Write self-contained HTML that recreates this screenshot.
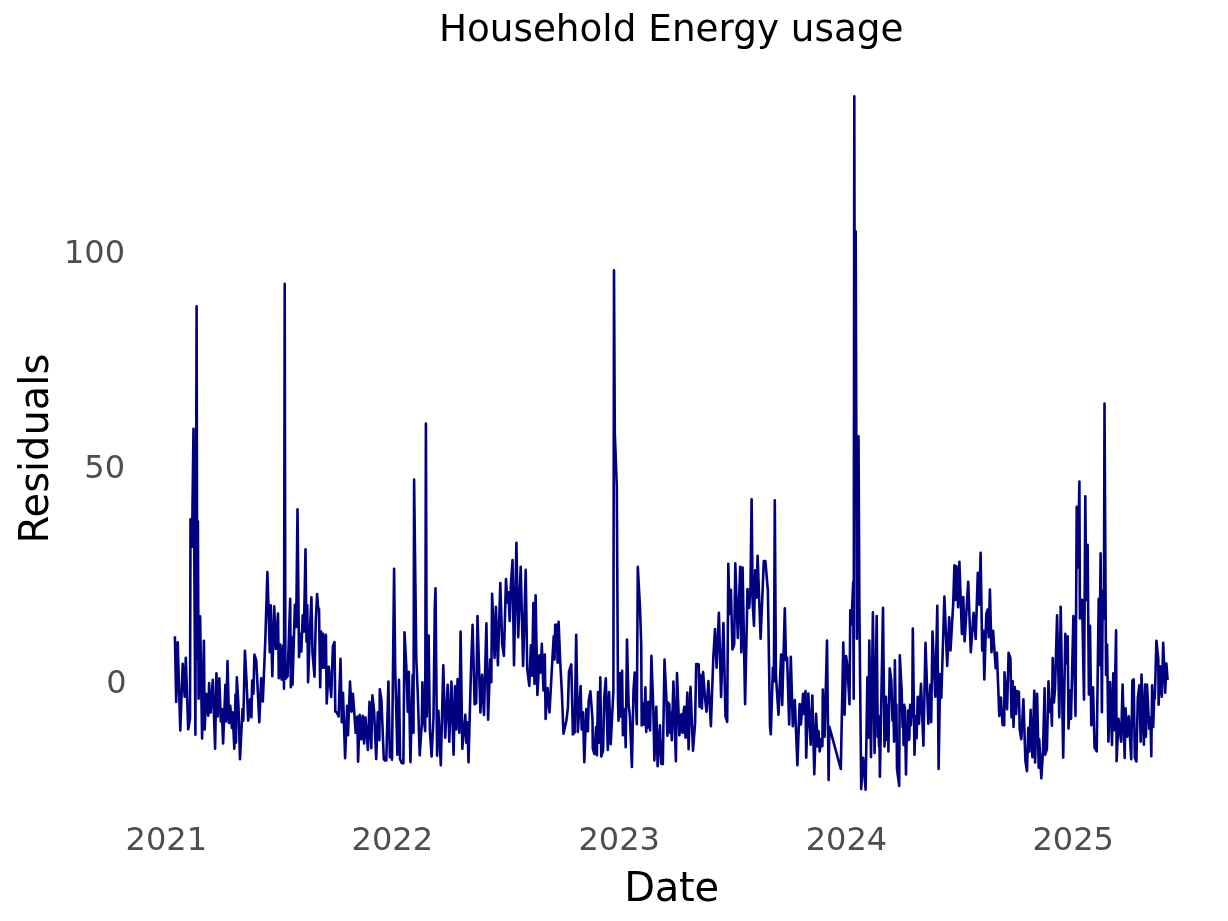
<!DOCTYPE html>
<html><head><meta charset="utf-8"><title>Household Energy usage</title>
<style>
html,body{margin:0;padding:0;background:#fff;}
svg{display:block}
text{font-family:"DejaVu Sans","Liberation Sans",sans-serif;}
</style></head><body>
<svg width="1228" height="921" viewBox="0 0 1228 921">
<rect width="1228" height="921" fill="#fff"/>
<text id="title" x="671.2" y="40.7" font-size="37.33" text-anchor="middle" fill="#000">Household Energy usage</text>
<text id="ylab" transform="translate(47.6,448.6) rotate(-90)" font-size="40" text-anchor="middle" fill="#000">Residuals</text>
<text id="xlab" x="671.5" y="900.8" font-size="40" letter-spacing="-0.3" text-anchor="middle" fill="#000">Date</text>
<g font-size="32" fill="#4d4d4d" text-anchor="end">
<text x="125" y="263.1">100</text>
<text x="125" y="478.1">50</text>
<text x="126.6" y="693">0</text>
</g>
<g font-size="32" fill="#4d4d4d" text-anchor="middle">
<text x="166.3" y="849.8">2021</text>
<text x="392.3" y="849.8">2022</text>
<text x="619.2" y="849.8">2023</text>
<text x="846.4" y="849.8">2024</text>
<text x="1073.2" y="849.8">2025</text>
</g>
<polyline id="line" fill="none" stroke="#000080" stroke-width="2.6" stroke-linejoin="round" points="174.9,636.3 176.2,701.9 177.7,642.4 180.3,730.4 182.7,663.9 184.7,696.7 185.8,657.8 188.2,729.2 190.0,718.5 190.5,519.2 192.0,546.8 193.5,428.7 195.4,734.8 196.6,306.2 197.3,658.8 197.9,521.2 198.6,698.8 200.1,616.2 202.1,738.5 203.9,640.7 204.7,729.5 206.2,693.7 208.3,715.7 209.1,683.1 210.7,712.4 212.8,679.8 215.1,748.8 216.4,673.3 217.7,716.5 219.3,678.2 220.8,721.4 221.8,709.1 223.1,743.4 225.4,684.7 226.2,721.4 227.5,661.1 229.0,723.0 230.3,705.9 231.9,727.9 232.7,712.4 234.3,748.8 235.5,694.5 236.0,742.6 236.8,677.4 238.4,704.7 240.0,759.2 242.5,709.1 243.3,720.6 244.9,650.8 246.5,680.3 248.2,720.6 250.1,699.4 251.4,717.3 252.2,680.6 253.4,693.7 254.4,654.6 256.3,660.7 259.3,722.2 261.2,678.2 262.8,701.5 265.3,640.4 267.4,572.0 269.8,652.2 270.7,605.4 272.3,676.1 274.2,606.2 275.9,648.9 278.0,613.5 278.8,678.2 280.3,644.5 281.6,679.4 283.2,645.6 284.0,688.8 284.7,283.9 285.4,678.8 287.6,676.2 290.2,598.9 290.8,687.2 291.8,637.5 292.5,684.8 294.9,604.9 296.2,626.9 297.5,509.3 299.0,657.1 300.3,633.9 301.3,651.4 302.7,615.2 303.9,631.8 305.5,549.2 306.5,641.6 307.3,605.4 308.1,682.3 309.7,636.3 311.4,597.3 312.5,652.6 314.5,676.6 315.8,620.0 317.1,594.0 318.2,609.0 319.0,608.7 320.2,687.2 321.1,631.5 322.3,667.7 323.1,633.9 324.4,667.7 325.9,634.7 326.7,703.5 328.8,666.8 331.2,697.0 332.9,646.1 334.5,642.0 335.3,711.6 336.9,712.4 338.6,716.5 340.5,658.7 341.8,722.2 343.0,692.9 345.1,758.1 347.2,705.9 348.0,735.2 350.0,681.5 351.6,711.6 352.9,693.7 355.7,732.8 357.3,716.5 358.1,761.8 359.7,714.8 361.4,739.3 362.7,715.7 364.1,743.4 365.4,717.3 367.9,749.9 369.5,701.8 371.3,748.3 372.4,695.3 374.1,711.2 376.2,758.9 377.8,712.4 379.4,740.1 379.8,689.3 381.4,699.8 382.2,719.3 383.8,759.2 385.0,760.5 386.3,760.5 388.4,681.5 389.9,757.2 390.8,741.7 392.0,759.7 394.1,568.8 395.2,668.9 397.4,754.8 399.0,679.8 400.1,759.3 401.8,763.3 403.4,763.3 404.5,632.3 406.2,664.0 407.8,711.6 408.8,671.7 410.4,762.1 412.7,674.9 413.5,732.8 414.1,479.6 416.3,659.1 417.7,691.7 419.7,755.3 421.8,724.2 422.4,682.3 423.7,717.7 425.2,731.2 425.9,423.5 426.8,716.5 428.6,635.5 429.9,730.7 431.6,756.4 433.5,717.7 434.8,606.6 435.5,588.3 437.1,755.6 438.4,710.8 440.8,765.1 443.3,665.2 445.2,737.7 447.7,684.7 449.3,741.8 451.4,681.5 453.6,754.8 455.0,686.3 456.3,729.5 457.6,679.0 459.3,732.8 460.6,631.5 462.3,748.8 465.3,714.8 466.4,742.6 467.4,722.2 468.5,762.1 471.0,668.9 472.6,624.9 474.6,704.3 476.2,703.1 477.5,616.0 480.4,712.4 482.1,674.9 484.0,714.9 486.4,623.3 488.1,719.8 490.2,659.5 491.3,682.3 492.1,593.7 494.6,657.9 495.9,606.7 497.9,665.2 500.3,583.1 502.2,644.4 503.9,655.9 506.0,579.0 507.3,602.5 508.4,592.4 509.7,620.9 510.9,585.5 512.5,560.1 514.0,665.2 516.4,542.7 518.2,637.2 520.7,566.8 523.1,666.0 525.7,569.9 527.2,668.9 529.3,685.9 530.9,645.3 532.1,675.8 533.4,603.0 534.5,683.9 535.6,595.3 537.4,695.0 539.4,655.4 540.7,672.5 541.8,643.7 543.5,690.5 544.8,654.6 545.6,719.0 547.5,688.0 549.5,712.4 551.6,673.7 553.7,636.3 554.5,659.5 555.2,624.9 556.8,624.9 557.6,662.8 558.6,621.7 560.2,661.5 561.9,693.3 563.5,733.6 566.3,721.0 567.9,707.9 569.0,671.3 571.3,664.4 572.9,734.4 574.6,732.4 576.2,634.7 577.8,732.0 580.6,686.0 581.7,729.5 583.0,712.4 584.3,762.1 586.3,709.1 587.9,731.2 588.7,700.6 590.4,691.2 592.5,719.3 592.8,748.7 594.4,754.0 596.1,727.1 596.9,755.3 598.0,692.0 599.3,742.6 600.3,677.4 601.3,756.4 603.1,750.3 604.2,698.2 605.8,678.2 607.8,749.9 609.1,692.0 610.7,744.2 612.7,704.7 613.4,690.0 614.0,270.4 614.8,433.0 616.8,487.0 618.0,700.0 618.5,720.6 619.7,673.3 620.8,716.5 622.1,670.9 622.9,735.2 624.6,709.1 625.7,747.1 627.0,639.6 628.6,704.7 629.9,716.1 631.9,767.0 633.5,690.0 634.7,672.5 636.8,724.3 637.8,566.8 640.0,607.5 641.2,644.1 641.7,725.5 642.3,702.6 643.0,723.0 643.6,705.9 644.3,724.7 645.4,687.2 646.2,732.0 646.9,704.3 647.5,727.9 648.2,701.8 648.8,723.0 649.5,705.9 650.1,730.4 651.4,655.9 653.4,711.2 654.4,760.5 656.3,706.7 657.6,766.2 659.9,725.4 661.2,763.8 662.8,764.1 664.5,659.5 666.4,699.0 667.4,735.7 668.2,702.6 668.7,723.0 669.3,704.3 670.0,732.8 670.7,712.4 671.8,740.1 673.4,681.5 675.9,761.3 677.0,673.0 679.4,735.2 680.3,715.7 680.9,731.2 681.6,714.0 682.4,732.8 683.2,732.4 683.7,711.2 684.3,706.7 685.0,730.7 685.6,737.7 687.3,692.5 688.6,749.1 690.5,686.7 693.0,750.7 695.1,722.6 696.2,664.0 698.7,664.4 699.5,706.7 700.3,674.9 701.9,708.4 703.1,672.0 704.9,696.5 706.5,711.6 708.4,681.1 710.9,726.3 713.3,657.5 715.0,629.0 716.6,667.7 718.9,612.7 721.1,697.0 723.4,623.0 725.5,716.1 727.2,721.9 728.3,563.9 729.6,613.9 730.9,589.9 732.5,649.4 734.2,644.4 735.3,563.4 737.8,638.0 740.2,566.8 741.3,652.2 742.6,567.6 745.1,704.3 747.5,589.1 749.2,607.9 750.5,587.4 751.6,499.2 752.7,603.7 754.0,625.8 755.2,570.4 756.5,597.6 757.6,555.7 760.6,638.8 763.8,561.0 765.4,561.0 767.9,591.2 770.0,725.9 770.8,734.3 772.9,667.5 773.9,681.4 774.8,500.2 775.9,674.4 776.8,689.1 778.5,714.8 781.1,654.5 782.2,705.0 784.8,608.4 786.0,660.2 787.1,657.7 789.2,724.5 790.8,656.9 792.8,726.2 794.8,700.1 797.4,765.2 799.6,704.1 800.9,724.5 803.1,693.9 803.9,713.9 805.5,691.1 806.2,757.6 808.3,693.5 810.7,744.6 812.3,695.5 814.3,774.2 816.1,713.9 817.6,746.5 818.5,731.0 819.7,751.4 821.3,739.1 822.4,746.2 822.8,689.5 824.6,736.7 827.0,640.5 828.6,779.9 829.4,726.9 840.8,769.0 843.3,642.6 844.6,714.8 846.1,656.1 847.4,666.3 849.5,704.2 850.3,610.3 851.4,624.4 853.2,582.2 853.7,698.8 854.3,96.2 854.9,458.8 855.7,231.2 856.9,638.8 858.5,436.2 859.4,610.0 861.2,788.9 863.2,757.9 865.6,789.7 867.4,677.3 868.5,737.6 869.3,640.5 871.0,757.1 872.9,612.4 874.6,753.0 876.7,616.0 877.7,736.7 878.3,715.5 879.0,746.5 879.3,719.6 879.9,776.7 883.0,607.9 884.5,746.5 886.0,696.8 886.6,740.0 887.3,704.9 887.8,740.0 888.1,716.3 888.4,751.4 889.7,668.3 891.3,680.1 892.5,720.5 893.1,700.1 894.1,741.6 894.9,660.2 895.7,717.2 896.4,704.9 897.0,768.9 899.2,785.9 899.8,655.3 901.6,689.9 902.6,727.0 903.1,713.1 903.6,744.9 904.2,704.9 904.5,717.2 904.9,707.4 906.0,774.5 906.8,729.4 907.5,740.0 908.1,710.6 908.8,740.0 909.3,738.8 910.1,704.9 910.9,725.3 911.7,706.6 912.2,717.2 912.8,628.6 914.5,754.7 915.6,716.3 916.6,738.1 917.7,696.8 919.0,723.7 921.0,683.8 923.4,745.7 925.5,642.9 928.3,723.7 930.4,684.6 931.2,722.1 932.5,631.5 935.3,696.8 937.3,605.8 938.6,769.0 940.2,674.0 941.3,697.7 944.4,596.5 947.2,665.9 949.2,617.2 950.5,650.4 953.2,604.2 954.4,565.2 955.3,599.9 956.5,566.3 958.1,607.1 959.4,561.9 961.9,634.0 963.3,597.0 964.6,641.3 966.3,614.0 968.2,581.8 970.8,652.1 973.6,612.8 975.7,638.9 977.8,572.9 979.4,604.7 980.6,552.8 982.2,650.4 983.4,630.7 984.3,679.4 986.3,614.2 987.6,609.5 988.7,637.2 989.9,589.5 991.5,652.1 993.1,630.7 995.7,668.3 996.9,652.8 999.3,715.9 1000.9,697.6 1002.6,724.9 1004.2,725.3 1004.5,672.4 1007.1,709.1 1008.6,652.8 1010.4,658.1 1011.5,717.2 1012.7,681.3 1013.5,727.0 1014.8,687.0 1016.1,713.9 1017.2,691.1 1018.9,692.0 1019.7,729.0 1021.3,739.2 1023.4,699.2 1025.4,760.7 1027.0,771.3 1028.3,727.7 1029.4,751.4 1030.6,709.8 1032.4,757.1 1034.3,690.8 1035.1,762.5 1037.1,693.9 1038.7,767.7 1039.2,739.1 1041.3,778.3 1043.0,751.0 1044.6,688.3 1045.2,754.7 1046.9,749.3 1048.5,681.3 1050.1,712.3 1050.9,700.1 1051.9,725.7 1052.7,658.0 1053.9,702.5 1055.0,689.1 1057.1,615.2 1059.3,717.2 1060.7,606.7 1063.2,757.6 1065.3,633.9 1066.4,663.5 1067.7,636.4 1068.5,728.6 1070.2,690.3 1071.0,718.8 1073.4,616.0 1075.5,715.9 1076.7,506.9 1077.8,567.4 1079.4,481.6 1079.9,618.5 1082.1,599.7 1084.0,699.6 1085.3,496.2 1086.3,599.9 1087.6,544.8 1088.9,694.4 1090.0,625.8 1091.3,725.3 1093.0,687.4 1094.6,747.7 1096.7,751.4 1098.7,598.9 1099.5,665.1 1100.6,553.3 1101.9,712.3 1102.7,590.8 1103.9,618.5 1104.5,403.6 1106.0,674.9 1107.1,644.5 1108.4,741.6 1110.1,682.1 1112.0,744.9 1113.3,673.2 1114.1,730.2 1116.1,630.4 1116.6,761.2 1118.5,718.8 1121.1,741.6 1122.6,684.6 1124.7,757.9 1125.5,708.2 1127.2,736.7 1128.8,716.3 1131.2,759.2 1132.4,680.2 1133.7,679.3 1134.8,757.5 1136.4,761.5 1137.8,698.0 1139.4,685.4 1140.7,741.6 1141.5,674.5 1143.9,744.6 1145.1,684.6 1145.9,736.7 1147.0,684.6 1149.2,728.6 1150.5,717.2 1151.3,756.3 1152.1,685.4 1153.2,727.0 1154.0,703.7 1154.0,691.2 1154.8,698.8 1156.4,640.7 1158.3,659.0 1158.6,704.8 1160.0,666.2 1161.8,696.8 1163.2,642.7 1165.2,692.8 1166.4,663.5 1167.6,680.0"/>
</svg>
</body></html>
